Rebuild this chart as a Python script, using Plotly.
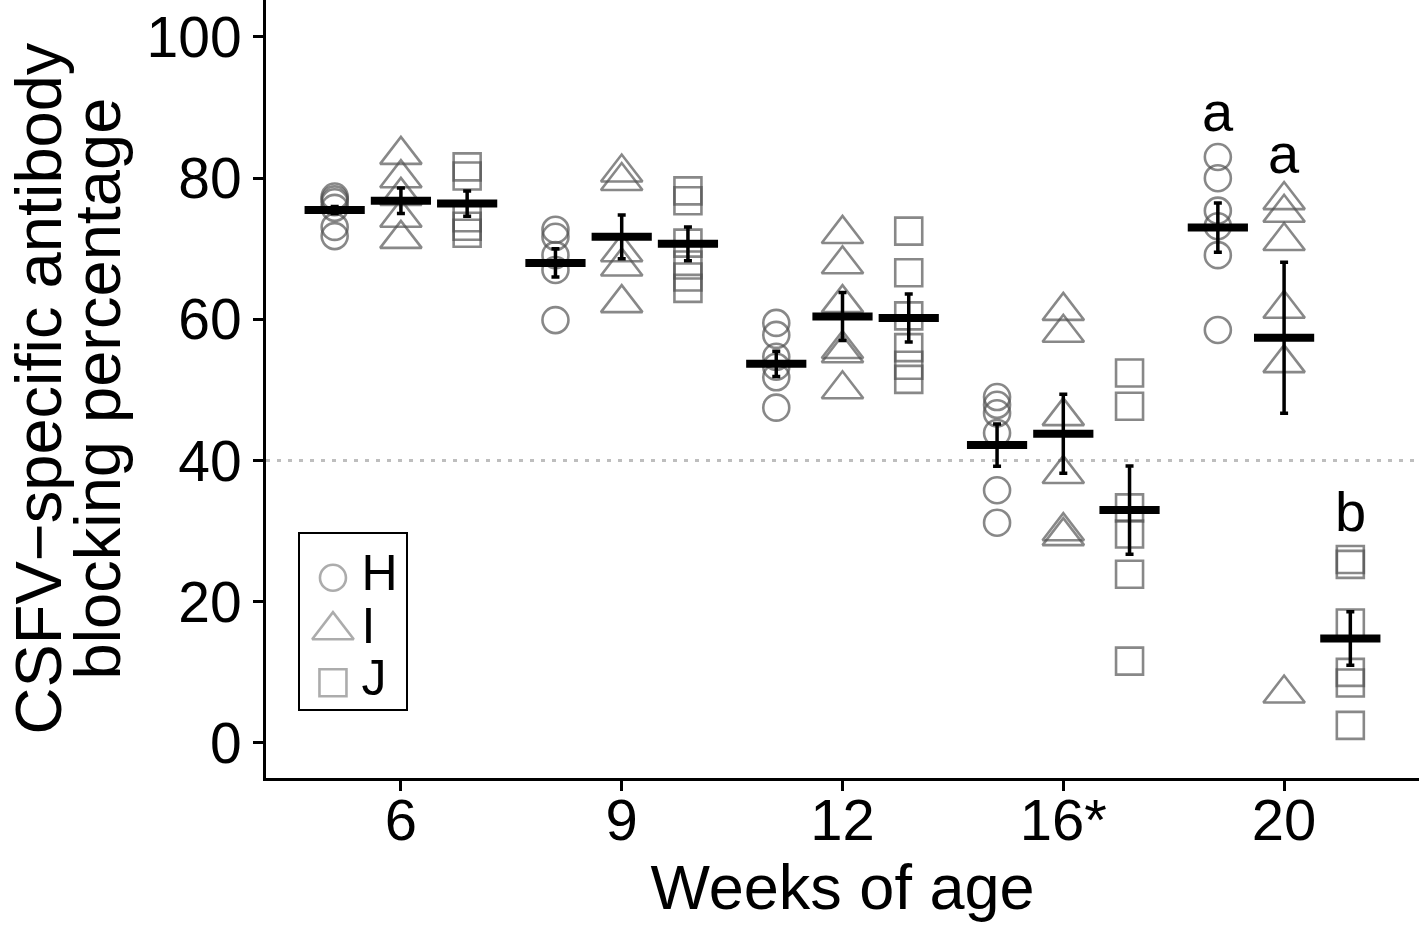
import plotly.graph_objects as go

# ---------------- data ----------------
weeks = ["6", "9", "12", "16*", "20"]
groups = ["H", "I", "J"]

H_values = [
    [77.4, 77.0, 76.6, 75.8, 73.1, 71.8],
    [72.7, 71.7, 69.1, 67.0, 59.9],
    [59.5, 57.8, 54.7, 53.3, 51.8, 47.5],
    [49.0, 47.9, 46.7, 43.9, 35.8, 31.2],
    [83.0, 80.0, 75.4, 73.2, 69.1, 58.5],
]
I_values = [
    [83.3, 80.0, 77.5, 74.4, 71.4],
    [80.8, 79.6, 69.5, 67.5, 62.3],
    [72.1, 67.8, 62.3, 55.8, 55.2, 50.1],
    [61.2, 58.1, 46.3, 38.1, 30.0, 29.3],
    [76.9, 75.1, 71.1, 61.5, 53.8, 7.0],
]
J_values = [
    [81.6, 80.3, 74.4, 73.2, 72.2],
    [78.2, 76.8, 70.8, 67.7, 66.0, 64.4],
    [72.5, 66.6, 60.5, 56.0, 53.5, 51.5],
    [52.4, 47.7, 33.3, 29.6, 23.9, 11.6],
    [26.0, 25.3, 17.0, 10.0, 8.5, 2.5],
]

H_mean = [75.5, 68.0, 53.7, 42.2, 73.0]
I_mean = [76.8, 71.7, 60.4, 43.8, 57.4]
J_mean = [76.4, 70.7, 60.2, 33.0, 14.8]
H_se = [0.5, 2.0, 1.8, 3.0, 3.5]
I_se = [1.8, 3.1, 3.4, 5.6, 10.7]
J_se = [1.8, 2.4, 3.4, 6.25, 3.8]

letters = ["a", "a", "b"]
letter_group = ["H", "I", "J"]
letter_week = ["20", "20", "20"]
letter_y = [89.5, 83.5, 32.8]

threshold = 40

x_title = "Weeks of age"
y_title_lines = ["CSFV\u2212specific antibody", "blocking percentage"]

# ---------------- style ----------------
FONT = "Liberation Sans, Arial, Helvetica, sans-serif"
offsets = {"H": -0.3, "I": 0.0, "J": 0.3}
symbols = {"H": "circle-open", "I": "triangle-up-open", "J": "square-open"}
sizes = {"H": 26, "I": 36, "J": 27}
PT_COLOR = "rgba(80,80,80,0.68)"

values = {"H": H_values, "I": I_values, "J": J_values}
means = {"H": H_mean, "I": I_mean, "J": J_mean}
ses = {"H": H_se, "I": I_se, "J": J_se}

week_pos = {w: i + 1 for i, w in enumerate(weeks)}

fig = go.Figure()

for g in groups:
    xs, ys = [], []
    for w, vals in zip(weeks, values[g]):
        for v in vals:
            xs.append(week_pos[w] + offsets[g])
            ys.append(v)
    fig.add_trace(go.Scatter(
        x=xs, y=ys, mode="markers", name=g,
        marker=dict(symbol=symbols[g], size=sizes[g], color=PT_COLOR,
                    line=dict(width=2.6, color=PT_COLOR)),
        showlegend=False,
    ))

for g in groups:
    fig.add_trace(go.Scatter(
        x=[week_pos[w] + offsets[g] for w in weeks], y=means[g],
        mode="markers", showlegend=False,
        marker=dict(symbol="line-ew", size=43, color="black",
                    line=dict(width=8, color="black")),
        error_y=dict(type="data", array=ses[g], visible=True,
                     color="black", thickness=3.5, width=4),
    ))

# legend drawn as a small inset axis (one key per group)
fig.add_trace(go.Scatter(
    x=[0] * len(groups), y=groups, mode="markers",
    marker=dict(symbol=[symbols[g] for g in groups], size=[sizes[g] for g in groups],
                color=PT_COLOR, line=dict(width=2.6, color=PT_COLOR)),
    xaxis="x2", yaxis="y2", showlegend=False, cliponaxis=False,
))
fig.add_trace(go.Scatter(
    x=[0.27] * len(groups), y=groups, mode="text",
    text=groups, textposition="middle right",
    textfont=dict(family=FONT, size=50, color="black"),
    xaxis="x2", yaxis="y2", showlegend=False, cliponaxis=False,
))

annotations = []
for t, g, w, yv in zip(letters, letter_group, letter_week, letter_y):
    annotations.append(dict(
        x=week_pos[w] + offsets[g], y=yv, text=t, showarrow=False,
        xref="x", yref="y", yanchor="middle",
        font=dict(family=FONT, size=56, color="black"),
    ))
# y-axis title (two tightly spaced lines)
annotations.append(dict(
    x=-0.2307, y=0.5, xref="paper", yref="paper", text=y_title_lines[0],
    textangle=-90, showarrow=False, xanchor="left", yanchor="middle", borderpad=0,
    font=dict(family=FONT, size=65, color="black"),
))
annotations.append(dict(
    x=-0.147, y=0.5, xref="paper", yref="paper", text=y_title_lines[1],
    textangle=-90, showarrow=False, xanchor="center", yanchor="middle",
    font=dict(family=FONT, size=65, color="black"),
))

fig.add_shape(type="line", xref="paper", x0=0, x1=1, yref="y",
              y0=threshold, y1=threshold,
              line=dict(color="#BEBEBE", width=3, dash="4px,7px"), layer="below")

fig.update_layout(
    width=1419, height=930,
    margin=dict(l=266, r=0, t=0, b=152),
    paper_bgcolor="white", plot_bgcolor="white",
    font=dict(family=FONT, color="black"),
    annotations=annotations,
    showlegend=False,
    xaxis=dict(
        range=[0.389, 5.611], tickmode="array", automargin=False,
        tickvals=[week_pos[w] for w in weeks], ticktext=weeks,
        showgrid=False, zeroline=False, showline=True, linecolor="black",
        linewidth=3, ticks="outside", ticklen=10, tickwidth=3, tickcolor="black",
        tickfont=dict(family=FONT, size=58, color="black"),
        ticklabelstandoff=-21,
        title=dict(text=x_title, font=dict(family=FONT, size=63, color="black"),
                   standoff=0),
    ),
    yaxis=dict(
        range=[-4.96, 105.24], tickmode="array", automargin=False,
        tickvals=[0, 20, 40, 60, 80, 100],
        showgrid=False, zeroline=False, showline=True, linecolor="black",
        linewidth=3, ticks="outside", ticklen=10, tickwidth=3, tickcolor="black",
        tickfont=dict(family=FONT, size=57, color="black"),
        ticklabelstandoff=0,
    ),
    xaxis2=dict(
        domain=[0.0295, 0.1214], anchor="y2", range=[-0.311, 0.689],
        showline=True, mirror=True, linecolor="black", linewidth=2,
        showgrid=False, zeroline=False, ticks="", showticklabels=False,
        fixedrange=True,
    ),
    yaxis2=dict(
        domain=[0.0887, 0.3136], anchor="x2", type="category",
        categoryorder="array", categoryarray=groups, range=[2.5, -0.833],
        showline=True, mirror=True, linecolor="black", linewidth=2,
        showgrid=False, zeroline=False, ticks="", showticklabels=False,
        fixedrange=True,
    ),
)

fig.write_html("out.html", config={"displayModeBar": False},
               post_script="document.body.style.margin='0';document.body.style.padding='0';")
